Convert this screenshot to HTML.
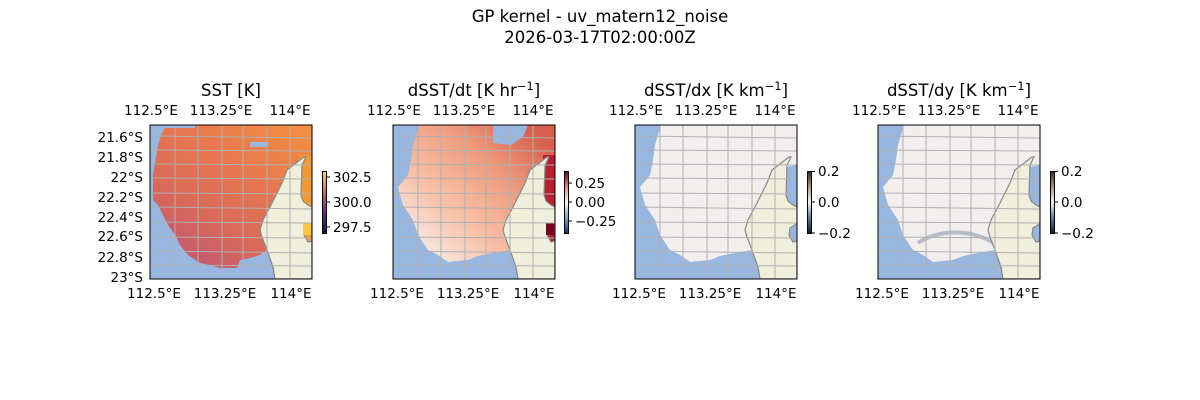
<!DOCTYPE html>
<html><head><meta charset="utf-8"><style>
body{margin:0;background:#fff;}
svg{display:block;font-family:"DejaVu Sans","Liberation Sans",sans-serif;}
</style></head><body>
<svg width="1200" height="400" viewBox="0 0 1200 400" xmlns="http://www.w3.org/2000/svg">
<defs>
<clipPath id="cp"><rect x="0" y="0" width="162" height="154"/></clipPath>
<path id="mask" d="M15,3 L45,3 L45,0 L162,0 L162,40 L137,45 L132,58 L125,72 L120,82 L113,95 L110,105 L112,112 L117,125 L110,130 L100,133 L90,135 L87,143 L70,143 L60,140 L50,138 L38,130 L30,120 L25,110 L18,100 L13,90 L8,80 L3,75 L3,50 L8,20 L12,8 Z"/>
<path id="mask2" d="M26,0 L162,0 L162,40 L137,45 L132,58 L125,72 L120,82 L113,95 L110,105 L112,112 L117,125 L100,128 L85,131 L75,135 L55,137 L45,130 L35,125 L25,110 L20,95 L10,80 L5,62 L15,50 L18,35 L20,20 Z"/>
<path id="land" d="M154,32 L137,45 L132,58 L125,72 L120,82 L113,95 L110,105 L112,112 L117,125 L123,142 L125,154 L162,154 L162,116 L158,117 L154,110 L155,103 L160,100 L162,98 L162,82 L158,80 L153,76 L151,70 L152,40 L156,32 Z"/>
<g id="grid" stroke="#b0b0b0" stroke-width="1" fill="none">
<path d="M25,0 L25,154 M48,0 L48,154 M72,0 L72,154 M93,0 L93,154 M117,0 L117,154 M140,0 L140,154"/>
<path d="M0,11 L162,13 M0,25 L162,26 M0,39 L162,40 M0,53 L162,54 M0,68 L162,69 M0,82 L162,84 M0,97 L162,98 M0,112 L162,113 M0,126 L162,128 M0,140 L162,141"/>
</g>
<linearGradient id="g1" x1="1" y1="0" x2="0.3" y2="1"><stop offset="0" stop-color="#f59140"/><stop offset="0.4" stop-color="#e8784e"/><stop offset="0.75" stop-color="#d9685a"/><stop offset="1" stop-color="#c45a6e"/></linearGradient>
<linearGradient id="g2" x1="1" y1="0.2" x2="0.15" y2="1"><stop offset="0" stop-color="#d6604d"/><stop offset="0.3" stop-color="#ee9a7c"/><stop offset="0.65" stop-color="#f7c0a6"/><stop offset="1" stop-color="#f7f0ee"/></linearGradient>
<linearGradient id="cb1" x1="0" y1="1" x2="0" y2="0"><stop offset="0" stop-color="#0d1a40"/><stop offset="0.3" stop-color="#4b2a7a"/><stop offset="0.55" stop-color="#b34a6a"/><stop offset="0.8" stop-color="#f08a40"/><stop offset="1" stop-color="#f7e040"/></linearGradient>
<linearGradient id="cb2" x1="0" y1="1" x2="0" y2="0"><stop offset="0" stop-color="#0a3a70"/><stop offset="0.25" stop-color="#6aa8d0"/><stop offset="0.5" stop-color="#f7f7f7"/><stop offset="0.75" stop-color="#e88a6e"/><stop offset="1" stop-color="#6b0020"/></linearGradient>
<linearGradient id="cb3" x1="0" y1="1" x2="0" y2="0"><stop offset="0" stop-color="#0a1a30"/><stop offset="0.25" stop-color="#5a7a9a"/><stop offset="0.5" stop-color="#f4f4f4"/><stop offset="0.75" stop-color="#a8987a"/><stop offset="1" stop-color="#3a3020"/></linearGradient>
</defs>

<text x="600" y="22" font-size="16.5" text-anchor="middle">GP kernel - uv_matern12_noise</text>
<text x="600" y="43" font-size="16.5" text-anchor="middle">2026-03-17T02:00:00Z</text>

<!-- Panel 1 -->
<g transform="translate(150,125)">
<g clip-path="url(#cp)">
<rect width="162" height="154" fill="#97b6e0"/>
<use href="#mask" fill="url(#g1)"/>
<path d="M100,17 L118,17 L118,22 L100,22 Z" fill="#97b6e0"/>
<rect x="150" y="30" width="12" height="90" fill="#f59a30"/>
<use href="#land" fill="#efefdb" stroke="#888" stroke-width="1.2"/>
<rect x="153" y="98" width="8" height="12" fill="#f7c840"/>
<use href="#grid"/>
</g>
<rect width="162" height="154" fill="none" stroke="#000" stroke-width="1"/>
</g>
<!-- Panel 2 -->
<g transform="translate(393,125)">
<g clip-path="url(#cp)">
<rect width="162" height="154" fill="#97b6e0"/>
<use href="#mask2" fill="url(#g2)"/>
<path d="M100,0 L135,0 L130,12 L118,20 L100,18 Z" fill="#97b6e0"/>
<rect x="150" y="30" width="12" height="90" fill="#b82030"/>
<use href="#land" fill="#efefdb" stroke="#888" stroke-width="1.2"/>
<rect x="153" y="98" width="8" height="12" fill="#7a0020"/>
<use href="#grid"/>
</g>
<rect width="162" height="154" fill="none" stroke="#000"/>
</g>
<!-- Panel 3 -->
<g transform="translate(635,125)">
<g clip-path="url(#cp)">
<rect width="162" height="154" fill="#97b6e0"/>
<use href="#mask2" fill="#f1eeed"/>
<use href="#land" fill="#efefdb" stroke="#888" stroke-width="1.2"/>
<use href="#grid"/>
</g>
<rect width="162" height="154" fill="none" stroke="#000"/>
</g>
<!-- Panel 4 -->
<g transform="translate(878,125)">
<g clip-path="url(#cp)">
<rect width="162" height="154" fill="#97b6e0"/>
<use href="#mask2" fill="#f1eeed"/>
<path d="M40,118 C60,104 95,104 115,118" stroke="#9aa8b8" stroke-width="4" fill="none" opacity="0.7"/>
<use href="#land" fill="#efefdb" stroke="#888" stroke-width="1.2"/>
<use href="#grid"/>
</g>
<rect width="162" height="154" fill="none" stroke="#000"/>
</g>

<!-- titles -->
<g font-size="16.5" text-anchor="middle">
<text x="231" y="96">SST [K]</text>
<text x="474" y="96">dSST/dt [K hr<tspan font-size="11.5" dy="-6">−1</tspan><tspan dy="6">]</tspan></text>
<text x="716" y="96">dSST/dx [K km<tspan font-size="11.5" dy="-6">−1</tspan><tspan dy="6">]</tspan></text>
<text x="959" y="96">dSST/dy [K km<tspan font-size="11.5" dy="-6">−1</tspan><tspan dy="6">]</tspan></text>
</g>

<!-- lon labels -->
<g font-size="13.5" text-anchor="middle">
<text x="151" y="115">112.5°E</text><text x="221" y="115">113.25°E</text><text x="290" y="115">114°E</text>
<text x="154" y="298">112.5°E</text><text x="225" y="298">113.25°E</text><text x="291" y="298">114°E</text>
<text x="394" y="115">112.5°E</text><text x="464" y="115">113.25°E</text><text x="533" y="115">114°E</text>
<text x="397" y="298">112.5°E</text><text x="468" y="298">113.25°E</text><text x="534" y="298">114°E</text>
<text x="636" y="115">112.5°E</text><text x="706" y="115">113.25°E</text><text x="775" y="115">114°E</text>
<text x="639" y="298">112.5°E</text><text x="710" y="298">113.25°E</text><text x="776" y="298">114°E</text>
<text x="879" y="115">112.5°E</text><text x="949" y="115">113.25°E</text><text x="1018" y="115">114°E</text>
<text x="882" y="298">112.5°E</text><text x="953" y="298">113.25°E</text><text x="1019" y="298">114°E</text>
</g>
<!-- lat labels -->
<g font-size="13.5" text-anchor="end">
<text x="143" y="142">21.6°S</text><text x="143" y="162">21.8°S</text><text x="143" y="182">22°S</text>
<text x="143" y="202">22.2°S</text><text x="143" y="222">22.4°S</text><text x="143" y="241">22.6°S</text>
<text x="143" y="262">22.8°S</text><text x="143" y="282">23°S</text>
</g>

<!-- colorbars -->
<g font-size="13.5">
<rect x="322.5" y="171.5" width="4" height="62" fill="url(#cb1)" stroke="#000"/>
<path d="M326.5,177H330M326.5,202H330M326.5,227H330" stroke="#000"/>
<text x="333" y="182">302.5</text><text x="333" y="207">300.0</text><text x="333" y="232">297.5</text>

<rect x="564.5" y="171.5" width="4" height="62" fill="url(#cb2)" stroke="#000"/>
<path d="M568.5,183H572M568.5,202H572M568.5,221H572" stroke="#000"/>
<text x="575" y="188">0.25</text><text x="575" y="207">0.00</text><text x="575" y="226">−0.25</text>

<rect x="807.5" y="171.5" width="4" height="62" fill="url(#cb3)" stroke="#000"/>
<path d="M811.5,171.5H815M811.5,202H815M811.5,233H815" stroke="#000"/>
<text x="818" y="176">0.2</text><text x="818" y="207">0.0</text><text x="818" y="238">−0.2</text>

<rect x="1050.5" y="171.5" width="4" height="62" fill="url(#cb3)" stroke="#000"/>
<path d="M1054.5,171.5H1058M1054.5,202H1058M1054.5,233H1058" stroke="#000"/>
<text x="1061" y="176">0.2</text><text x="1061" y="207">0.0</text><text x="1061" y="238">−0.2</text>
</g>
</svg>
</body></html>
